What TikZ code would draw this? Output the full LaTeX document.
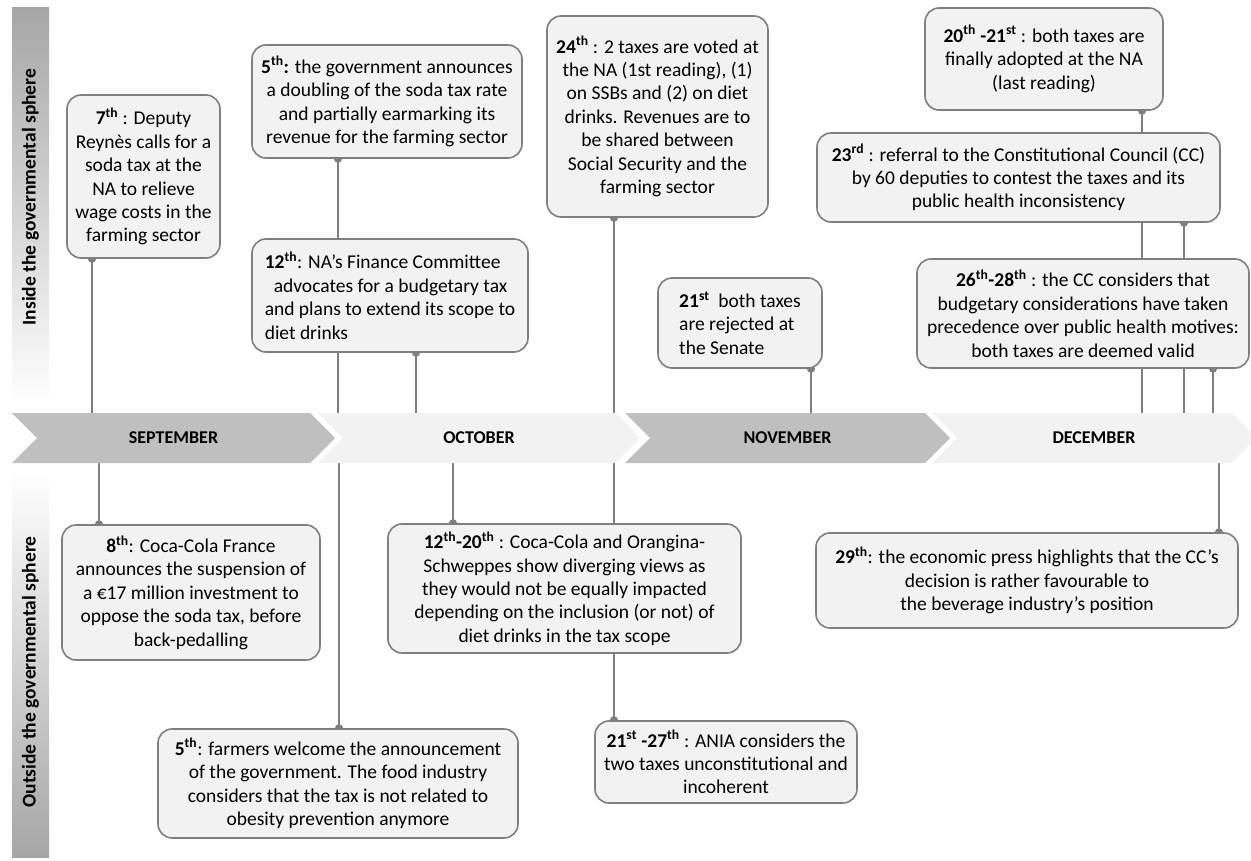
\documentclass[tikz,border=0pt]{standalone}
\usepackage{fontspec}
\setmainfont{Carlito}
\usetikzlibrary{%
    arrows.meta,
    backgrounds,
    positioning
}
\definecolor{boxfill}{HTML}{F2F2F2}
\definecolor{boxline}{HTML}{7F7F7F}
\definecolor{chevdark}{HTML}{BFBFBF}
\definecolor{chevlight}{HTML}{F2F2F2}
\definecolor{panelgray}{HTML}{A6A6A6}
\tikzset{eventbox/.style = {draw=boxline, fill=boxfill, line width=1.6pt,
        rounded corners=14pt, align=center, inner sep=0pt,
        font=\fontsize{19.5}{23.4}\selectfont}}
\tikzset{dotline/.style = {draw=boxline, line width=1.5pt,
        -{Circle[length=8pt]}, shorten >=-4pt}}
\tikzset{monthlabel/.style = {font=\fontsize{18}{20}\selectfont\bfseries}}
\tikzset{spherelabel/.style = {rotate=90, font=\fontsize{19.5}{20}\selectfont\bfseries}}
\newcommand{\ordn}[2]{\textbf{#1\textsuperscript{#2}}}

\begin{document}
\begin{tikzpicture}[x=1pt, y=-1pt]
    \useasboundingbox (0,0) rectangle (1251,861);

    % side panels
    \shade[top color=panelgray, bottom color=white] (12,8) rectangle (49,405);
    \shade[top color=white, bottom color=panelgray] (12,470) rectangle (49,857);
    \node[spherelabel] (inside) at (30.5,197) {Inside the governmental sphere};
    \node[spherelabel] (outside) at (30.5,672) {Outside the governmental sphere};

    % month band
    \foreach \L/\R/\Col/\Month in {%
        12/335/chevdark/SEPTEMBER,
        318/640/chevlight/OCTOBER,
        625/950/chevdark/NOVEMBER,
        932/1256/chevlight/DECEMBER}
        {
        \fill[\Col] (\L,413) -- ({\R-25},413) -- (\R,438) -- ({\R-25},463)
            -- (\L,463) -- ({\L+25},438) -- cycle;
        \node[monthlabel] (\Month) at ({(\L+\R)/2},438) {\Month};
        }

    % inside the governmental sphere
    \node[eventbox, minimum width=153, minimum height=163] (b7) at (143.5,176.5)
        {\ordn{7}{th} : Deputy\\ Reynès calls for a\\ soda tax at the\\ NA to relieve\\ wage costs in the\\ farming sector};
    \node[eventbox, minimum width=270, minimum height=113] (b5) at (387,101.5)
        {\textbf{5\textsuperscript{th}:} the government announces\\ a doubling of the soda tax rate\\ and partially earmarking its\\ revenue for the farming sector};
    \node[eventbox, align=left, minimum width=276, minimum height=113] (b12) at (390,295.5)
        {\ordn{12}{th}: NA’s Finance Committee\\ \hspace{9pt}advocates for a budgetary tax\\ and plans to extend its scope to\\ diet drinks};
    \node[eventbox, minimum width=221, minimum height=201] (b24) at (657.5,116.5)
        {\ordn{24}{th} : 2 taxes are voted at\\ the NA (1st reading), (1)\\ on SSBs and (2) on diet\\ drinks. Revenues are to\\ be shared between\\ Social Security and the\\ farming sector};
    \node[eventbox, align=left, minimum width=164, minimum height=90] (b21) at (740,323)
        {\ordn{21}{st}\ \ both taxes\\ are rejected at\\ the Senate};
    \node[eventbox, minimum width=238, minimum height=102] (b20) at (1044,59)
        {\ordn{20}{th} \textbf{-21\textsuperscript{st}} : both taxes are\\ finally adopted at the NA\\ (last reading)};
    \node[eventbox, minimum width=403, minimum height=89] (b23) at (1018.5,177.5)
        {\ordn{23}{rd} : referral to the Constitutional Council (CC)\\ by 60 deputies to contest the taxes and its\\ public health inconsistency};
    \node[eventbox, minimum width=332, minimum height=109] (b26) at (1083,313.5)
        {\textbf{26\textsuperscript{th}-28\textsuperscript{th}} : the CC considers that\\ budgetary considerations have taken\\ precedence over public health motives:\\ both taxes are deemed valid};

    % outside the governmental sphere
    \node[eventbox, minimum width=258, minimum height=135] (b8) at (191,592.5)
        {\ordn{8}{th}: Coca-Cola France\\ announces the suspension of\\ a €17 million investment to\\ oppose the soda tax, before\\ back-pedalling};
    \node[eventbox, minimum width=360, minimum height=109] (bF) at (338,783.5)
        {\ordn{5}{th}: farmers welcome the announcement\\ of the government. The food industry\\ considers that the tax is not related to\\ obesity prevention anymore};
    \node[eventbox, minimum width=353, minimum height=129] (b1220) at (564.5,588.5)
        {\textbf{12\textsuperscript{th}-20\textsuperscript{th}} : Coca-Cola and Orangina-\\ Schweppes show diverging views as\\ they would not be equally impacted\\ depending on the inclusion (or not) of\\ diet drinks in the tax scope};
    \node[eventbox, minimum width=262, minimum height=82] (bA) at (726,762)
        {\ordn{21}{st} \textbf{-27\textsuperscript{th}} : ANIA considers the\\ two taxes unconstitutional and\\ incoherent};
    \node[eventbox, minimum width=422, minimum height=95] (b29) at (1027,580.5)
        {\ordn{29}{th}: the economic press highlights that the CC’s\\ decision is rather favourable to\\ the beverage industry’s position};

    \begin{scope}[on background layer]
        \foreach \Box/\X in {b7/92, b5/338, b12/416, b24/614, b21/811, b20/1142, b23/1184, b26/1213}
            {
            \coordinate (up-\Box) at (\X,413);
            \draw[dotline] (up-\Box) -- (up-\Box |- \Box.south);
            }
        \foreach \Box/\X in {b8/99, bF/339, b1220/453, bA/614, b29/1219}
            {
            \coordinate (down-\Box) at (\X,463);
            \draw[dotline] (down-\Box) -- (down-\Box |- \Box.north);
            }
    \end{scope}
\end{tikzpicture}
\end{document}
